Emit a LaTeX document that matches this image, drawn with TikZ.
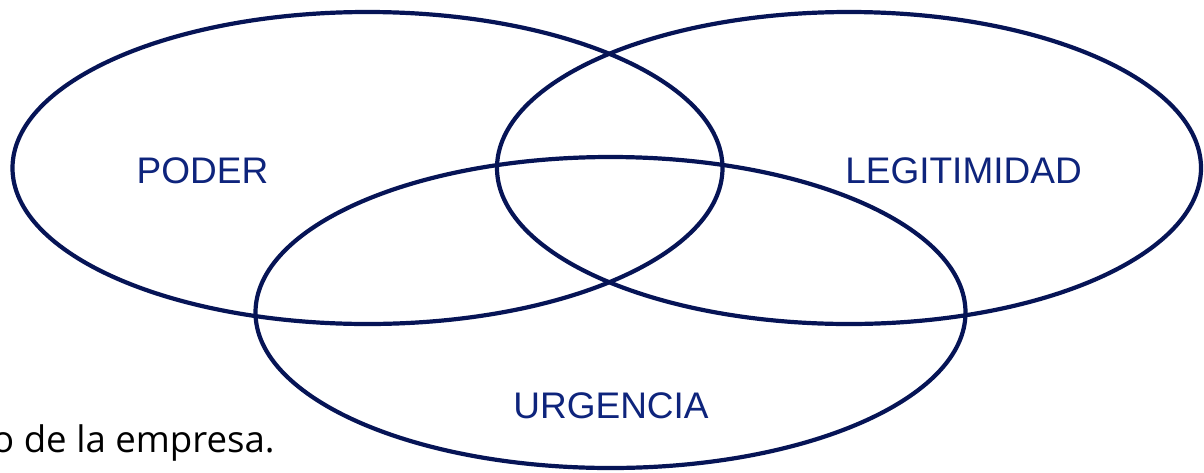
\documentclass[tikz,border=0pt]{standalone}
\usepackage{fontspec}
\setmainfont{Liberation Sans}
\newfontfamily\bodyfont{Open Sans}
\usetikzlibrary{shapes.geometric}
\definecolor{vennline}{RGB}{6,20,86}
\definecolor{venntext}{RGB}{14,36,124}
\tikzset{
  vennell/.style={ellipse, draw=vennline, line width=4.2pt, inner sep=0pt, outer sep=0pt},
  vennlabel/.style={text=venntext, font=\fontsize{37}{40}\selectfont, inner sep=0pt, anchor=base},
  bodytext/.style={text=black, font=\bodyfont\fontsize{36.6}{40}\selectfont, inner sep=0pt, anchor=base west}
}
\begin{document}
\begin{tikzpicture}[x=1pt,y=-1pt]
  \useasboundingbox (0,0) rectangle (1204,472);
  \fill[white] (0,0) rectangle (1204,472);
  \node[bodytext] (body) at (-8,452) {o de la empresa.};
  \node[vennell, minimum width=710pt, minimum height=312pt] (poder) at (367.5,168) {};
  \node[vennell, minimum width=704pt, minimum height=312pt] (legit) at (849,168) {};
  \node[vennell, minimum width=710pt, minimum height=311pt] (urg) at (610.5,312.5) {};
  \node[vennlabel] (lpoder) at (202.5,183) {PODER};
  \node[vennlabel] (llegit) at (963.5,183) {LEGITIMIDAD};
  \node[vennlabel] (lurg) at (611,418) {URGENCIA};
\end{tikzpicture}
\end{document}
